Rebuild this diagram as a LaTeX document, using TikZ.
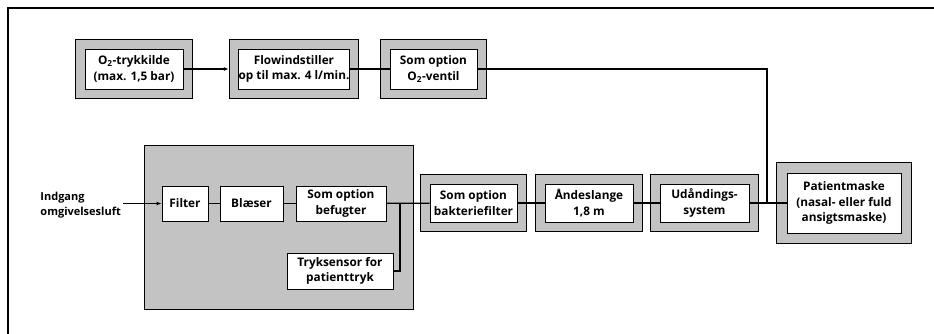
\documentclass[tikz,border=0pt]{standalone}
\usepackage{fontspec}
\setmainfont{Open Sans}
\usetikzlibrary{arrows.meta,fit,backgrounds}
\definecolor{casegray}{HTML}{C3C3C3}

\begin{document}
\begin{tikzpicture}[
  x=1pt, y=-1pt,
  font=\fontsize{11.8}{15.2}\selectfont\bfseries,
  unit/.style={draw, thick, fill=white, align=center, inner sep=0pt,
               minimum width=#1, minimum height=40},
  stage/.style={draw, thick, fill=white, align=center, inner sep=0pt,
               minimum width=#1, minimum height=35},
  casing/.style={draw, thick, fill=casegray, inner sep=9pt},
  pipe/.style={line width=1.3pt},
  feed/.style={line width=1.3pt, -{Latex[length=5pt,width=4pt]}}
]
  \useasboundingbox (0,0) rectangle (934,334);
  % outer frame, open at right and bottom
  \draw[line width=2pt] (8,334) -- (8,8.5) -- (934,8.5);

  % oxygen branch
  \node[unit=98] (src) at (134,69) {O\textsubscript{2}-trykkilde\\(max. 1,5 bar)};
  \node[unit=110] (flow) at (294,69) {Flowindstiller\\op til max. 4 l/min.};
  \node[unit=87] (valve) at (433.5,69) {Som option\\O\textsubscript{2}-ventil};

  % device unit
  \node[stage=46] (filter) at (185,203.5) {Filter};
  \node[stage=63] (blower) at (251.5,203.5) {Blæser};
  \node[stage=90] (humid) at (341,203.5) {Som option\\befugter};
  \node[stage=106, minimum height=36] (sensor) at (340,271) {Tryksensor for\\patienttryk};
  \node[align=left, inner sep=0pt, anchor=east, font=\fontsize{11}{15.2}\selectfont\bfseries]
    (inlet) at (121,205) {Indgang\\omgivelsesluft};

  % patient circuit
  \node[unit=87, minimum height=38] (bact) at (473.5,203) {Som option\\bakteriefilter};
  \node[unit=88, minimum height=38] (hose) at (589,203) {Åndeslange\\1,8 m};
  \node[unit=89, minimum height=38] (exhal) at (704.5,203) {Udåndings-\\system};
  \node[unit=114, minimum height=60] (mask) at (844,203) {Patientmaske\\(nasal- eller fuld\\ansigtsmaske)};

  \begin{scope}[on background layer]
    \node[draw, thick, fill=casegray, minimum width=269, minimum height=164] (device) at (278.5,227) {};
    \foreach \n in {src,flow,valve,bact,hose,exhal}
      \node[casing, fit=(\n)] (\n-case) {};
    \node[casing, inner sep=10pt, fit=(mask)] (mask-case) {};
  \end{scope}

  \coordinate (tee) at (400,203);
  \coordinate (join) at (767,69);

  \draw[feed] (123,0 |- filter) -- (filter);
  \draw[feed] (src) -- (flow-case);
  \draw[pipe] (flow) -- (valve);
  \draw[pipe] (valve.east) -- (join) -- (join |- mask.west);
  \draw[pipe] (filter) -- (blower);
  \draw[pipe] (blower) -- (humid);
  \draw[pipe] (humid) -- (bact);
  \draw[pipe] (tee) |- (sensor.east);
  \draw[pipe] (bact) -- (hose);
  \draw[pipe] (hose) -- (exhal);
  \draw[pipe] (exhal) -- (mask);
\end{tikzpicture}
\end{document}
